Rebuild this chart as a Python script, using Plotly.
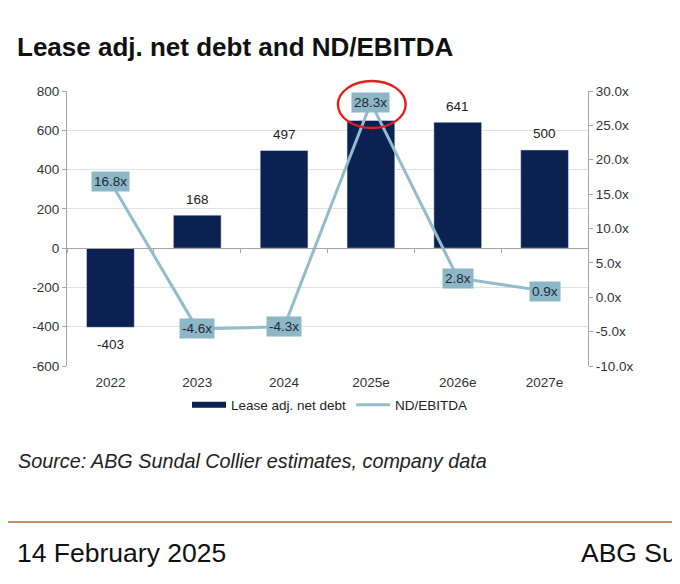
import plotly.graph_objects as go

# ── Data ──────────────────────────────────────────────────────────────────
years = ["2022", "2023", "2024", "2025e", "2026e", "2027e"]
net_debt = [-403, 168, 497, 650, 641, 500]
net_debt_labels = ["-403", "168", "497", "", "641", "500"]   # 2025e label hidden behind box
nd_ebitda = [16.8, -4.6, -4.3, 28.3, 2.8, 0.9]

left_ticks = [-600, -400, -200, 0, 200, 400, 600, 800]
right_ticks = [-10, -5, 0, 5, 10, 15, 20, 25, 30]

# ── Style ─────────────────────────────────────────────────────────────────
NAVY = "#0b2152"
LIGHT = "#93bccd"
BOX = "#8db6c7"
AXIS = "#a6a6a6"
GRID = "#e2e2e2"
FONT = "Liberation Sans, Arial, sans-serif"
SMALL = 13.5

OFF = 8                      # page body margin pushes the figure by 8px
W, H = 680 - OFF, 584 - OFF
L, T = 67 - OFF, 91 - OFF
PW, PH = 521, 275
R, B = W - L - PW, H - T - PH

Y1 = [-600, 800]
Y2 = [-10, 30]


def px(x):
    return (x - OFF - L) / PW


def py(y):
    return (H - B - (y - OFF)) / PH


fig = go.Figure()

fig.add_trace(go.Bar(
    x=years, y=net_debt, marker_color=NAVY, width=0.55,
    name="Lease adj. net debt", showlegend=False,
))

# legend stand-in so the swatch is a wide bar like the original
fig.add_trace(go.Scatter(
    x=[None], y=[None], mode="lines", line=dict(color=NAVY, width=6),
    name="Lease adj. net debt",
))

fig.add_trace(go.Scatter(
    x=years, y=nd_ebitda, mode="lines", line=dict(color=LIGHT, width=3),
    name="ND/EBITDA", xaxis="x2", yaxis="y2",
))

# ── Labels ────────────────────────────────────────────────────────────────
for i, (v, lab) in enumerate(zip(net_debt, net_debt_labels)):
    if not lab:
        continue
    fig.add_annotation(
        x=i, y=v, xref="x", yref="y", text=lab, showarrow=False,
        yshift=16 if v >= 0 else -17, font=dict(size=SMALL, color="#222222"),
    )

for i, v in enumerate(nd_ebitda):
    fig.add_annotation(
        x=i, y=v, xref="x2", yref="y2", text=f"{v:.1f}x", showarrow=False,
        bgcolor=BOX, borderpad=2, font=dict(size=SMALL, color="#1e2a33"),
    )

# red hand-drawn circle round the 2025e ratio (paper y so it is not clipped)
fig.add_shape(
    type="circle", xref="x2", yref="paper",
    x0=2.62, x1=3.40, y0=py(128), y1=py(81),
    line=dict(color="#e3201c", width=2.4),
)

# ── Page texts ────────────────────────────────────────────────────────────
fig.add_annotation(
    xref="paper", yref="paper", x=px(15), y=py(47), xanchor="left", yanchor="middle",
    text="<b>Lease adj. net debt and ND/EBITDA</b>", showarrow=False,
    font=dict(size=26, color="#111111"),
)
fig.add_annotation(
    xref="paper", yref="paper", x=px(16), y=py(461), xanchor="left", yanchor="middle",
    text="<i>Source: ABG Sundal Collier estimates, company data</i>", showarrow=False,
    font=dict(size=19.8, color="#222222"),
)
fig.add_shape(
    type="line", xref="paper", yref="paper", x0=px(0), x1=px(690), y0=py(522), y1=py(522),
    line=dict(color="#c98d68", width=2),
)
fig.add_annotation(
    xref="paper", yref="paper", x=px(15), y=py(553), xanchor="left", yanchor="middle",
    text="14 February 2025", showarrow=False, font=dict(size=26.5, color="#111111"),
)
fig.add_annotation(
    xref="paper", yref="paper", x=px(579), y=py(553), xanchor="left", yanchor="middle",
    text="ABG Sundal Collier", showarrow=False, font=dict(size=26.5, color="#111111"),
)

# ── Layout ────────────────────────────────────────────────────────────────
zero_pos = (0 - Y1[0]) / (Y1[1] - Y1[0])

fig.update_layout(
    width=W, height=H,
    margin=dict(l=L, r=R, t=T, b=B),
    paper_bgcolor="white", plot_bgcolor="white",
    font=dict(family=FONT, size=SMALL, color="#333333"),
    xaxis=dict(
        type="category", range=[-0.5, 5.5], showline=False, ticks="",
        showgrid=False, tickfont=dict(size=SMALL, color="#333333"),
        ticklabelstandoff=6,
    ),
    xaxis2=dict(
        type="category", range=[-0.5, 5.5], overlaying="x", anchor="free",
        position=zero_pos, side="bottom", showticklabels=False,
        showline=True, linecolor=AXIS, linewidth=1,
        ticks="outside", tickson="boundaries", ticklen=4, tickcolor=AXIS,
        showgrid=False,
    ),
    yaxis=dict(
        range=Y1, tickvals=left_ticks, ticktext=[str(t) for t in left_ticks],
        showline=True, linecolor=AXIS,
        ticks="outside", ticklen=4, tickcolor=AXIS,
        gridcolor=GRID, zeroline=False, tickfont=dict(size=SMALL, color="#333333"),
    ),
    yaxis2=dict(
        range=Y2, tickvals=right_ticks, ticktext=[f"{t:.1f}x" for t in right_ticks],
        overlaying="y", side="right", anchor="x2",
        showline=True, linecolor=AXIS,
        ticks="outside", ticklen=4, tickcolor=AXIS,
        showgrid=False, zeroline=False, tickfont=dict(size=SMALL, color="#333333"),
    ),
    legend=dict(
        orientation="h", x=px(330), y=py(405), xanchor="center", yanchor="middle",
        font=dict(size=SMALL, color="#222222"), itemwidth=34,
        bgcolor="rgba(0,0,0,0)",
    ),
)

fig.write_html("out.html")
